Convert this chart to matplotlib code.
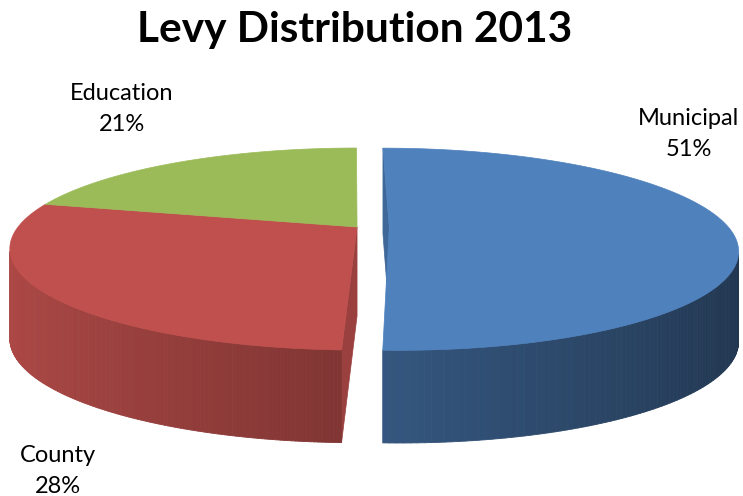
import numpy as np
import matplotlib
matplotlib.use("Agg")
import matplotlib.pyplot as plt
from matplotlib.colors import to_rgb
from matplotlib.collections import PolyCollection

# data
categories = ["Municipal", "County", "Education"]
shares = [50.6, 28.4, 21.0]
colors = ["#4f81bd", "#c0504d", "#9bbb59"]
explode = [0.095, 0.0, 0.0]

# projection of the tilted disc (pixel space of a 743x496 canvas)
XCAM, YC = 354.0, 227.0
A, B, K = 339.0, 96.2, 0.218
H0, K2 = 89.0, 0.04
U0 = 0.009
CAM_V = -4.2


def project(u, v, down=0.0):
    w = 1 + K * v
    x = XCAM + A * u / w
    y = YC - B * v / w + down * H0 / (1 + K2 * v)
    return x, y


def shade(c, f):
    r, g, b = to_rgb(c)
    return (r * f, g * f, b * f)


fig = plt.figure(figsize=(7.43, 4.96), dpi=100)
ax = fig.add_axes([0, 0, 1, 1])
ax.set_xlim(0, 743)
ax.set_ylim(496, 0)
ax.axis("off")

n = len(shares)
total = sum(shares)
cum = 0.0
for i, (name, val, col, ex) in enumerate(zip(categories, shares, colors, explode)):
    t1 = 90 - 360 * cum / total
    t2 = 90 - 360 * (cum + val) / total
    cum += val
    mid = np.radians((t1 + t2) / 2)
    cu, cv = U0 + ex * np.cos(mid), ex * np.sin(mid)
    ts = np.radians(np.linspace(t1, t2, 200))
    ru, rv = cu + np.cos(ts), cv + np.sin(ts)

    # radial cut faces: only exposed ones turned towards the viewer
    for t, sgn, nb in ((ts[0], 1, (i - 1) % n), (ts[-1], -1, (i + 1) % n)):
        if ex == 0 and explode[nb] == 0:
            continue
        nu, nv = -np.sin(t) * sgn, np.cos(t) * sgn
        if nu * (0 - cu) + nv * (CAM_V - cv) <= 0:
            continue
        eu, ev = cu + np.cos(t), cv + np.sin(t)
        pts = [project(cu, cv), project(eu, ev), project(eu, ev, 1), project(cu, cv, 1)]
        ax.add_patch(plt.Polygon(pts, closed=True, facecolor=shade(col, 0.8),
                                 edgecolor=shade(col, 0.8), lw=0.5, zorder=1))

    # outer wall, front-facing strips only, back to front
    quads, fcs, order = [], [], []
    for j in range(len(ts) - 1):
        tm = (ts[j] + ts[j + 1]) / 2
        pu, pv = cu + np.cos(tm), cv + np.sin(tm)
        if np.cos(tm) * (0 - pu) + np.sin(tm) * (CAM_V - pv) <= 0:
            continue
        q = [project(ru[j], rv[j]), project(ru[j + 1], rv[j + 1]),
             project(ru[j + 1], rv[j + 1], 1), project(ru[j], rv[j], 1)]
        quads.append(q)
        fcs.append(shade(col, 0.66 - 0.25 * np.cos(tm)))
        order.append(-np.sin(tm))
    if quads:
        idx = np.argsort(order)
        pc = PolyCollection([quads[k] for k in idx], facecolors=[fcs[k] for k in idx],
                            edgecolors=[fcs[k] for k in idx], linewidths=0.6, zorder=2)
        ax.add_collection(pc)

    # top face
    top = [project(cu, cv)] + [project(a, b) for a, b in zip(ru, rv)]
    ax.add_patch(plt.Polygon(top, closed=True, facecolor=col, edgecolor=col,
                             lw=0.5, zorder=3))

# labels
label_pos = {"Municipal": (689, 125), "County": (58, 462), "Education": (122, 100)}
for name, val in zip(categories, shares):
    x, y = label_pos[name]
    ax.text(x, y, name, ha="center", va="baseline", fontsize=17, family="Lato", zorder=5)
    ax.text(x, y + 31, f"{round(val / total * 100):.0f}%", ha="center", va="baseline",
            fontsize=17, family="Lato", zorder=5)

ax.text(355, 42, "Levy Distribution 2013", ha="center", va="baseline",
        fontsize=30.5, fontweight="bold", family="Lato")

fig.savefig("out.png", dpi=100)
